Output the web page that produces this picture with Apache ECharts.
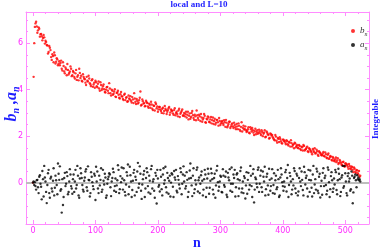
<!DOCTYPE html>
<html><head><meta charset="utf-8">
<script src="https://cdn.jsdelivr.net/npm/echarts@6/dist/echarts.min.js"></script>
<style>html,body{margin:0;padding:0;background:#fff}#c{width:381px;height:251px}</style>
</head><body><div id="c"></div>
<script>
// n indices for the "even" arrays: 0,1,2 then 4..524 step 2; "odd" arrays: 3..523 step 2
var nEven = [0, 1, 2];
for (var k = 4; k <= 524; k += 2) nEven.push(k);
var nOdd = [];
for (var j = 3; j <= 523; j += 2) nOdd.push(j);

var bEven = [0, 4.55, 6.0,
 6.85, 6.72, 6.55, 6.62, 6.38, 6.30, 6.22, 6.25, 6.10, 5.92,
 5.55, 5.88, 5.70, 5.28, 5.45, 5.60, 5.12, 5.35, 5.05, 5.22,
 5.15, 4.90, 5.18, 4.78, 4.95, 4.62, 4.85, 4.72, 5.00, 4.58,
 4.80, 4.55, 4.70, 4.42, 4.62, 4.90, 4.50, 4.38, 4.66, 4.48,
 4.30, 4.55, 4.35, 4.48, 4.22, 4.40, 4.12, 4.30, 4.38, 4.15,
 4.25, 4.05, 4.32, 3.98, 4.15, 4.02, 3.88, 4.10, 3.95, 4.28,
 3.85, 4.00, 3.78, 3.92, 3.70, 3.86, 3.95, 3.65, 3.80, 3.72,
 3.60, 3.78, 3.55, 3.68, 3.50, 3.62, 3.72, 3.45, 3.58, 3.85,
 3.48, 3.60, 3.40, 3.55, 3.92, 3.35, 3.50, 3.42, 3.30, 3.46,
 3.28, 3.40, 3.22, 3.36, 3.12, 3.30, 3.45, 3.20, 3.05, 3.25,
 3.15, 3.00, 3.22, 3.08, 3.18, 2.95, 3.12, 3.25, 3.02, 3.10,
 2.98, 3.12, 2.90, 3.05, 2.85, 3.18, 2.96, 3.08, 2.88, 3.00,
 2.95, 2.80, 3.05, 2.88, 2.75, 3.00, 2.90, 2.70, 2.85, 3.10,
 2.78, 2.92, 2.65, 2.80, 2.72, 2.95, 2.60, 2.75, 2.85, 2.62,
 2.72, 2.55, 2.80, 2.65, 2.50, 2.70, 2.60, 2.78, 2.48, 2.62,
 2.55, 2.68, 2.40, 2.58, 2.45, 2.62, 2.35, 2.50, 2.42, 2.58,
 2.38, 2.52, 2.30, 2.45, 2.22, 2.60, 2.35, 2.28, 2.42, 2.18,
 2.30, 2.15, 2.38, 2.20, 2.25, 2.05, 2.32, 2.18, 2.10, 2.28,
 2.12, 2.25, 2.00, 2.15, 1.95, 2.20, 2.08, 1.90, 2.12, 2.02,
 1.95, 1.85, 2.05, 1.80, 1.92, 1.75, 1.88, 1.70, 1.85, 1.78,
 1.72, 1.82, 1.65, 1.75, 1.55, 1.70, 1.62, 1.48, 1.68, 1.58,
 1.50, 1.62, 1.45, 1.55, 1.38, 1.58, 1.42, 1.50, 1.35, 1.48,
 1.40, 1.30, 1.45, 1.32, 1.25, 1.42, 1.20, 1.35, 1.28, 1.18,
 1.25, 1.15, 1.30, 1.08, 1.20, 1.02, 1.15, 0.98, 1.10, 0.95,
 1.00, 0.88, 1.05, 0.85, 0.92, 0.78, 0.88, 0.72, 0.82, 0.75,
 0.68, 0.80, 0.62, 0.70, 0.55, 0.65, 0.48, 0.55, 0.40, 0.50,
 0.30];

var bOdd = [
 6.70, 6.92, 6.45, 6.68, 6.28, 6.40, 6.12, 6.35, 5.98, 6.05,
 5.90, 5.62, 5.80, 5.40, 5.52, 5.18, 5.48, 5.20, 5.30, 5.12,
 5.05, 5.25, 4.82, 5.02, 4.70, 4.88, 5.10, 4.65, 4.78, 4.90,
 4.62, 4.75, 4.48, 4.85, 4.55, 4.40, 4.72, 4.60, 4.35, 4.55,
 4.45, 4.20, 4.38, 4.60, 4.28, 4.15, 4.45, 4.22, 4.08, 4.32,
 4.10, 4.35, 3.95, 4.20, 4.05, 4.22, 3.90, 4.00, 4.12, 3.85,
 4.05, 3.75, 3.95, 3.82, 4.02, 3.68, 3.88, 3.78, 3.62, 3.90,
 3.70, 3.55, 3.82, 3.65, 3.48, 3.75, 3.58, 3.52, 3.68, 3.42,
 3.62, 3.38, 3.52, 3.45, 3.65, 3.32, 3.58, 3.40, 3.28, 3.52,
 3.42, 3.22, 3.35, 3.48, 3.18, 3.32, 3.10, 3.38, 3.28, 3.15,
 3.25, 3.08, 3.18, 2.98, 3.30, 3.12, 3.05, 3.20, 2.92, 3.15,
 3.08, 2.92, 3.20, 3.00, 2.95, 3.10, 2.82, 3.02, 3.15, 2.90,
 2.85, 3.05, 2.92, 2.72, 2.98, 2.82, 3.08, 2.78, 2.92, 2.68,
 2.90, 2.70, 2.85, 2.95, 2.62, 2.78, 2.88, 2.58, 2.72, 2.80,
 2.60, 2.82, 2.68, 2.52, 2.75, 2.58, 2.70, 2.45, 2.65, 2.55,
 2.65, 2.48, 2.60, 2.70, 2.38, 2.52, 2.62, 2.42, 2.55, 2.35,
 2.48, 2.30, 2.42, 2.55, 2.28, 2.40, 2.20, 2.45, 2.32, 2.25,
 2.22, 2.38, 2.12, 2.30, 2.35, 2.15, 2.22, 2.08, 2.25, 2.15,
 2.20, 2.05, 2.18, 2.10, 2.25, 1.98, 2.15, 2.05, 1.92, 2.08,
 2.05, 1.90, 1.82, 1.98, 1.72, 1.88, 1.95, 1.78, 1.68, 1.85,
 1.80, 1.65, 1.78, 1.60, 1.72, 1.82, 1.55, 1.65, 1.72, 1.52,
 1.62, 1.48, 1.58, 1.40, 1.52, 1.62, 1.38, 1.45, 1.55, 1.32,
 1.45, 1.35, 1.22, 1.38, 1.48, 1.28, 1.35, 1.15, 1.30, 1.22,
 1.18, 1.32, 1.12, 1.22, 1.05, 1.25, 1.08, 1.12, 0.95, 1.05,
 0.92, 1.08, 0.95, 0.80, 0.98, 0.85, 0.75, 0.90, 0.68, 0.82,
 0.78, 0.60, 0.72, 0.58, 0.66, 0.45, 0.60, 0.42, 0.52, 0.35,
 0.25];

var aEven = [0, 0.05, -0.10,
 -0.15, 0.10, -0.20, 0.25, -0.05, -0.72, 0.15, 0.72, 0.05, -0.88,
 0.40, -0.45, 0.18, -0.25, 0.08, -0.55, 0.30, -0.10, 0.82, 0.12,
 -0.35, -1.29, -0.96, 0.20, -0.15, 0.45, -0.50, 0.05, 0.35, -0.25,
 0.15, -0.40, 0.55, -0.10, 0.30, -0.65, 0.62, 0.20, -0.30, 0.08,
 0.48, -0.20, 0.70, 0.10, -0.45, 0.25, -0.15, 0.38, -0.75, 0.05,
 -0.25, 0.30, 0.12, -0.40, 0.55, -0.08, 0.22, -0.55, 0.15, 0.40,
 -0.20, 0.05, 0.60, -0.35, 0.18, -0.12, 0.75, -0.45, 0.28, 0.65,
 -0.30, 0.10, -0.55, 0.45, 0.78, -0.18, 0.32, -0.62, 0.08, 0.55,
 0.25, -0.40, 0.85, -0.05, 0.38, -0.70, 0.15, 0.50, -0.25, 0.62,
 -0.15, 0.30, -0.48, 0.72, 0.05, -0.35, 0.42, -0.90, 0.18, -0.10,
 0.55, -0.28, 0.35, -0.05, 0.68, -0.42, 0.20, 0.08, -0.60, 0.40,
 -0.18, 0.50, 0.12, -0.35, 0.28, -0.08, 0.62, -0.50, 0.35, 0.05,
 -0.25, 0.45, -0.62, 0.18, 0.82, -0.12, 0.30, -0.45, 0.10, 0.55,
 -0.38, 0.22, -0.05, 0.48, -0.55, 0.15, 0.35, -0.22, 0.60, -0.48,
 0.08, 0.40, -0.30, 0.20, -0.65, 0.52, 0.02, -0.18, 0.30, -0.40,
 0.58, -0.10, 0.25, -0.52, 0.42, 0.10, -0.35, 0.65, -0.05, 0.20,
 -0.60, 0.35, 0.15, -0.25, 0.50, -0.42, 0.05, 0.28, -0.68, 0.45,
 0.12, -0.30, 0.72, -0.15, 0.38, -0.85, 0.22, -0.05, 0.55, -0.40,
 0.30, -0.20, 0.48, 0.05, -0.55, 0.25, -0.12, 0.60, -0.35, 0.18,
 -0.45, 0.40, 0.10, -0.28, 0.55, -0.62, 0.22, 0.35, -0.15, 0.05,
 0.45, -0.38, 0.76, -0.10, 0.28, -0.50, 0.15, 0.62, -0.25, 0.38,
 -0.55, 0.20, 0.05, 0.48, -0.32, 0.68, -0.08, 0.30, -0.60, 0.12,
 0.52, -0.22, 0.35, -0.45, 0.15, 0.60, -0.35, 0.25, -0.64, 0.08,
 0.42, -0.15, 0.30, -0.50, 0.65, 0.02, -0.28, 0.45, -0.40, 0.18,
 0.55, -0.32, 0.10, 0.38, -0.58, 0.22, 0.72, -0.15, 0.40, -0.45,
 0.28, 0.05, -0.35, 0.48, -0.89, 0.20, 0.35, -0.20, 0.15, 0.10,
 0.05];

var aOdd = [
 0.02, -0.30, 0.12, -0.45, 0.32, -0.18, 0.50, -0.60, 0.22, -0.40,
 -0.10, 0.55, -0.65, 0.25, -0.38, 0.62, -0.22, 0.10, -0.50, 0.38,
 0.70, -0.28, 0.15, -0.62, 0.42, -0.05, 0.28, -0.40, 0.58, -0.15,
 -0.48, 0.35, 0.05, -0.25, 0.72, -0.55, 0.18, 0.40, -0.10, -0.38,
 0.22, 0.58, -0.35, 0.12, -0.60, 0.45, 0.02, -0.28, 0.30, 0.68,
 0.48, -0.45, -0.12, 0.62, -0.30, 0.08, 0.38, -0.65, -0.05, 0.25,
 0.35, -0.58, 0.20, 0.45, -0.15, -0.40, 0.10, 0.55, -0.28, 0.02,
 0.18, 0.62, -0.40, -0.08, 0.30, -0.50, 0.68, 0.05, -0.32, 0.42,
 -0.55, 0.12, 0.48, -0.22, 0.70, -0.35, -0.08, 0.35, -0.62, 0.20,
 0.45, -0.42, 0.08, 0.58, -0.25, 0.15, -0.65, 0.30, 0.55, -0.18,
 -0.38, 0.25, -0.55, 0.62, 0.10, -0.20, 0.42, -0.48, 0.30, 0.00,
 0.35, -0.62, 0.22, 0.55, -0.42, 0.12, -0.25, 0.45, -0.05, 0.70,
 0.30, -0.15, 0.12, -0.40, 0.52, 0.20, -0.58, 0.62, -0.28, -0.08,
 0.65, 0.10, -0.45, 0.32, 0.08, -0.30, 0.55, -0.62, 0.18, 0.38,
 -0.22, 0.60, 0.15, -0.50, 0.38, -0.12, 0.72, -0.35, 0.05, 0.25,
 -0.42, 0.30, -0.18, 0.48, -0.62, 0.22, 0.58, -0.05, -0.40, 0.35,
 0.55, -0.20, 0.40, -0.58, 0.10, 0.65, -0.25, -0.45, 0.20, -0.12,
 -0.48, 0.42, -0.10, 0.30, -0.62, 0.58, -0.30, 0.15, -0.20, 0.65,
 -0.05, 0.52, -0.40, 0.25, 0.68, -0.28, 0.38, -0.52, 0.12, -0.15,
 0.58, -0.10, -0.48, 0.30, -0.20, 0.15, -0.55, 0.62, 0.02, -0.35,
 -0.18, 0.55, 0.20, -0.62, 0.42, 0.05, -0.30, -0.12, 0.50, -0.45,
 0.30, -0.38, 0.62, -0.15, 0.12, -0.55, 0.45, 0.20, -0.25, 0.55,
 -0.40, 0.10, -0.60, 0.72, -0.08, -0.30, 0.48, -0.45, 0.38, -0.15,
 -0.52, 0.62, 0.20, -0.10, -0.35, 0.55, -0.62, 0.28, 0.10, -0.25,
 -0.08, 0.45, -0.50, 0.60, 0.15, -0.40, 0.32, -0.22, 0.72, 0.05,
 -0.55, 0.40, 0.18, -0.28, 0.30, -0.42, 0.25, 0.10, 0.32, 0.22,
 0.15];

var xMajor = [0, 100, 200, 300, 400, 500];
var xMinor = [20, 40, 60, 80, 120, 140, 160, 180, 220, 240, 260, 280, 320, 340, 360, 380, 420, 440, 460, 480, 520];
var yMajor = [0, 2, 4, 6];
var yMinor = [-1.5, -1, -0.5, 0.5, 1, 1.5, 2.5, 3, 3.5, 4.5, 5, 5.5, 6.5, 7];

var xMin = -11.2, xMax = 538, yMin = -1.78, yMax = 7.34;
var FRAME = '#ff8cff', LAB = '#ff2cff', BLUE = '#1f1fff';

function pairs(ns, vals) { return vals.map(function (v, i) { return [ns[i], v]; }); }

function axis(kind, pos, ticks, len, line, labels) {
  return {
    type: 'value', position: pos, offset: 0,
    min: kind === 'x' ? xMin : yMin, max: kind === 'x' ? xMax : yMax,
    axisLine: { show: line, onZero: false, lineStyle: { color: FRAME, width: 1 } },
    axisTick: { show: true, inside: true, length: len, customValues: ticks, lineStyle: { color: FRAME, width: 1 } },
    axisLabel: labels ? { show: true, customValues: ticks, color: LAB, fontSize: 8, margin: 3, fontFamily: 'DejaVu Sans' } : { show: false },
    splitLine: { show: false }
  };
}

var chart = echarts.init(document.getElementById('c'), null, { renderer: 'canvas' });
chart.setOption({
  animation: false,
  backgroundColor: '#fff',
  grid: { left: 26, right: 12, top: 12, bottom: 27, containLabel: false },
  xAxis: [axis('x', 'bottom', xMajor, 4, true, true), axis('x', 'bottom', xMinor, 2, false, false),
          axis('x', 'top', xMajor, 4, true, false), axis('x', 'top', xMinor, 2, false, false)],
  yAxis: [axis('y', 'left', yMajor, 4, true, true), axis('y', 'left', yMinor, 2, false, false),
          axis('y', 'right', yMajor, 4, true, false), axis('y', 'right', yMinor, 2, false, false)],
  legend: {
    orient: 'vertical', left: 346, top: 20, itemGap: 2,
    itemWidth: 4, itemHeight: 4, icon: 'circle',
    data: ['b', 'a'],
    formatter: function (name) { return '{v|' + name + '}{s|n}'; },
    textStyle: {
      lineHeight: 12,
      rich: {
        v: { fontFamily: 'Liberation Serif', fontStyle: 'italic', fontSize: 9, color: '#333', verticalAlign: 'middle', lineHeight: 12 },
        s: { fontFamily: 'Liberation Serif', fontStyle: 'italic', fontSize: 6, color: '#333', verticalAlign: 'bottom', lineHeight: 7 }
      }
    }
  },
  series: [
    {
      name: 'b', type: 'scatter', xAxisIndex: 0, yAxisIndex: 0,
      symbol: 'circle', symbolSize: 2.4, z: 3,
      itemStyle: { color: '#ff0000' },
      data: pairs(nEven, bEven).concat(pairs(nOdd, bOdd)),
      markLine: {
        silent: true, symbol: 'none', z: 1, label: { show: false },
        lineStyle: { color: '#bdbdbd', width: 2, type: 'solid' },
        data: [{ yAxis: 0 }]
      }
    },
    {
      name: 'a', type: 'scatter', xAxisIndex: 0, yAxisIndex: 0,
      symbol: 'circle', symbolSize: 2.4, z: 3,
      itemStyle: { color: '#000000' },
      data: pairs(nEven, aEven).concat(pairs(nOdd, aOdd))
    }
  ],
  graphic: [
    { type: 'text', x: 199, y: 5, style: { text: 'local and L=10', align: 'center', verticalAlign: 'middle', fill: BLUE, font: 'bold 9px "Liberation Serif"' } },
    { type: 'text', x: 197, y: 243, style: { text: 'n', align: 'center', verticalAlign: 'middle', fill: BLUE, font: 'bold 14px "Liberation Serif"' } },
    { type: 'text', x: 376, y: 119, rotation: Math.PI / 2, style: { text: 'Integrable', align: 'center', verticalAlign: 'middle', fill: BLUE, font: 'bold 9px "Liberation Serif"' } },
    { type: 'text', x: 12, y: 104, rotation: Math.PI / 2, style: {
        text: '{v|b}{s|n}{v| ,a}{s|n}', align: 'center', verticalAlign: 'middle',
        rich: {
          v: { fill: BLUE, fontFamily: 'Liberation Serif', fontStyle: 'italic', fontWeight: 'bold', fontSize: 16, verticalAlign: 'middle', lineHeight: 18 },
          s: { fill: BLUE, fontFamily: 'Liberation Serif', fontStyle: 'italic', fontWeight: 'bold', fontSize: 10, verticalAlign: 'bottom', lineHeight: 9 }
        } } }
  ]
});
</script></body></html>
